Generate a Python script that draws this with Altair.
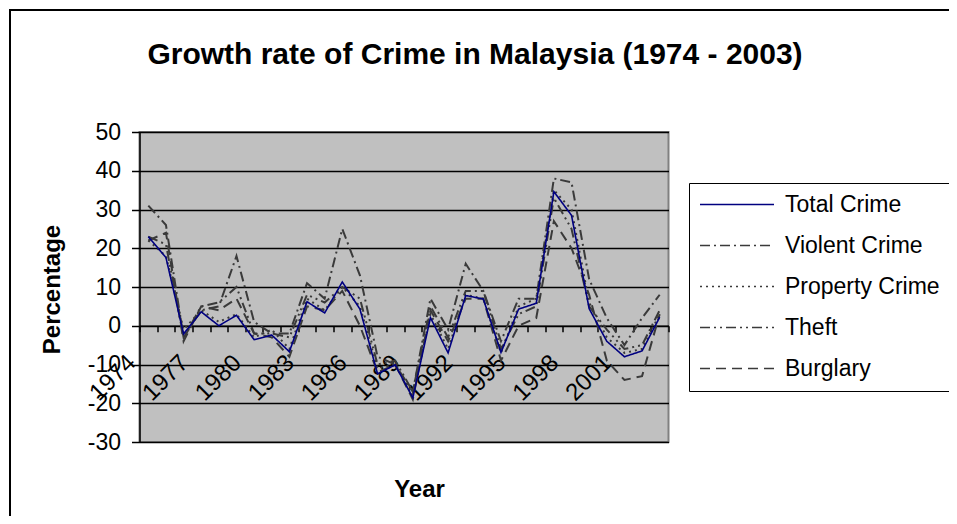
import altair as alt
import pandas as pd

years = list(range(1974, 2004))
series_names = ["Total Crime", "Violent Crime", "Property Crime", "Theft", "Burglary"]

total_crime = [23.0, 17.6, -2.1, 3.6, 0.0, 2.7, -3.6, -2.4, -6.7, 6.2, 3.3, 11.3, 4.3, -12.4, -10.1,
               -18.6, 2.1, -7.0, 7.8, 6.9, -6.9, 4.3, 5.8, 34.6, 28.5, 4.4, -4.0, -8.0, -6.5, 2.2]
violent_crime = [31, 26, -3, 4, 5, 18, 1, -2, -2, 11, 7, 25, 13, -8, -10,
                 -17, 7, -1, 16, 9, -4, 7, 7, 38, 37, 12, 2, -5, 2, 8]
property_crime = [22, 18, -1, 4, 1, 3, -3, -1, -6, 7, 4, 10, 5, -11, -10,
                  -18, 3, -6, 8, 7, -7, 5, 7, 35, 30, 6, -3, -7, -6, 3]
theft = [23, 21, -3, 5, 6, 10, -2, -2, -3, 8, 6, 10, 7, -10, -9,
         -17, 5, -3, 9, 9, -6, 3, 5, 33, 25, 5, -1, -6, -5, 4]
burglary = [22, 24, -4, 5, 4, 7, -2, -3, -8, 5, 4, 9, 0, -12, -10,
            -19, 4, -4, 7, 7, -9, 0, 2, 27, 20, 8, -9, -14, -13, 3]

rows = []
for name, vals in zip(series_names, [total_crime, violent_crime, property_crime, theft, burglary]):
    for yr, v in zip(years, vals):
        rows.append({"Year": yr, "Series": name, "Percentage": v})
df = pd.DataFrame(rows)

FONT = "Liberation Sans"

color_scale = alt.Scale(domain=series_names,
                        range=["#000080", "#3a3a3a", "#3a3a3a", "#3a3a3a", "#3a3a3a"])
dash_scale = alt.Scale(domain=series_names,
                       range=[[1, 0], [10, 4, 2, 4], [2, 4], [10, 4, 2, 4, 2, 4], [10, 6]])

x_enc = alt.X(
    "Year:O",
    scale=alt.Scale(type="band", paddingInner=0, paddingOuter=0),
    axis=alt.Axis(
        title="Year", titleFont=FONT, titleFontSize=24, titleFontWeight="bold", titleColor="black",
        titleX=279.5, titleY=171, titleAlign="center", titleBaseline="alphabetic",
        labelAngle=-45, labelAlign="right", labelBaseline="alphabetic", labelPadding=32,
        labelOffset=-12, labelFont=FONT, labelFontSize=24, labelColor="black",
        labelExpr="(toNumber(datum.value) - 1974) % 3 == 0 ? datum.label : ''",
        labelOverlap=False, tickBand="extent", ticks=True, tickSize=6, tickColor="black",
        tickWidth=1.5, domain=True, domainColor="black", domainWidth=1.5, grid=False,
        offset=-116.25,
    ),
)
y_enc = alt.Y(
    "Percentage:Q",
    scale=alt.Scale(domain=[-30, 50], nice=False, zero=False),
    axis=alt.Axis(
        values=list(range(-30, 51, 10)), labelExpr="'' + datum.value",
        title="Percentage", titleFont=FONT, titleFontSize=24, titleFontWeight="bold",
        titleColor="black", titleAngle=-90, titleX=-80, titleY=157, titleAlign="center",
        titleBaseline="alphabetic",
        labelFont=FONT, labelFontSize=23, labelColor="black", labelPadding=11,
        tickSize=8, tickColor="black", tickWidth=1.5, domainColor="black", domainWidth=1.5,
        grid=True, gridColor="black", gridWidth=1.5,
    ),
)

legend = alt.Legend(title=None)
base = alt.Chart(df).encode(
    x=x_enc,
    y=y_enc,
    color=alt.Color("Series:N", scale=color_scale, legend=legend),
    strokeDash=alt.StrokeDash("Series:N", scale=dash_scale, legend=legend),
)

grey = base.transform_filter(alt.datum.Series != "Total Crime").mark_line(strokeWidth=2)
total = base.transform_filter(alt.datum.Series == "Total Crime").mark_line(strokeWidth=1.6)

border = alt.Chart(alt.Data(values=[{}])).mark_rect(
    filled=False, stroke="black", strokeWidth=2
).encode(x=alt.value(-129.5), x2=alt.value(830), y=alt.value(-122), y2=alt.value(420))

chart = alt.layer(border, grey, total).properties(
    width=529,
    height=310,
    padding={"left": 131.5, "top": 124, "right": 280.5, "bottom": 74},
    autosize=alt.AutoSizeParams(type="none"),
    title=alt.TitleParams(
        text="Growth rate of Crime in Malaysia (1974 - 2003)", font=FONT, fontSize=30,
        fontWeight="bold", color="black", anchor="middle", frame="group", offset=0,
        dx=71, dy=85, baseline="alphabetic",
    ),
).configure_view(
    fill="#c0c0c0", stroke="#808080", strokeWidth=2
).configure_legend(
    orient="none", legendX=549.5, legendY=51, padding=10, strokeColor="black",
    fillColor="white", labelFont=FONT, labelFontSize=23, labelColor="black",
    symbolType="stroke", symbolSize=5476, symbolStrokeWidth=1.5, labelOffset=10,
    rowPadding=17, clipHeight=23,
)

chart.save("out.html", embed_options={"renderer": "svg", "actions": False})
